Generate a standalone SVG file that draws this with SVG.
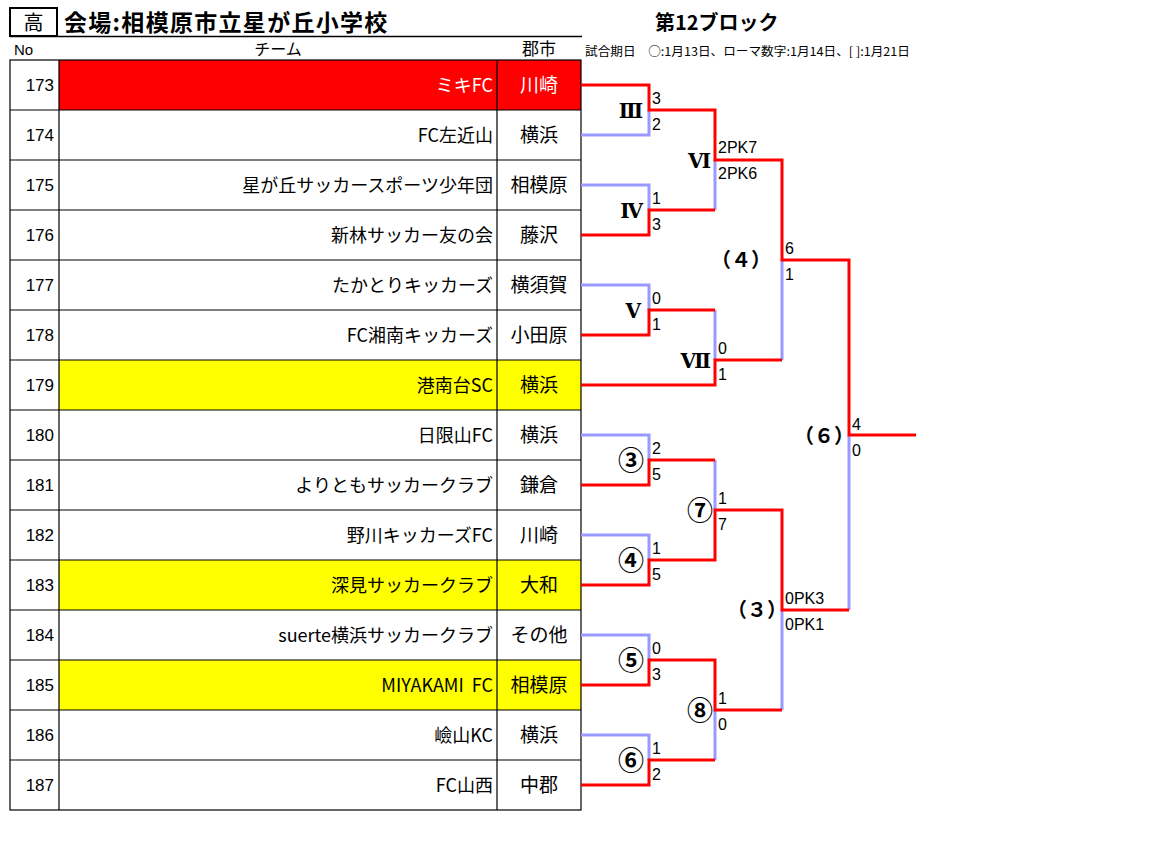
<svg xmlns="http://www.w3.org/2000/svg" width="1152" height="854" viewBox="0 0 1152 854">
<style>
.jp{font-family:"Noto Sans CJK JP","Noto Sans",sans-serif;}
.team{font-family:"Noto Sans CJK JP","Noto Sans",sans-serif;font-size:18px;text-anchor:end;fill:#000;}
.city{font-family:"Noto Sans CJK JP","Noto Sans",sans-serif;font-size:19px;text-anchor:middle;fill:#000;}
.num{font-family:"Liberation Sans","Noto Sans",sans-serif;font-size:17px;text-anchor:end;fill:#000;}
.sc{font-family:"Liberation Sans","Noto Sans",sans-serif;font-size:16px;fill:#000;}
.rom{font-family:"DejaVu Serif","Noto Sans CJK JP",serif;font-size:20px;font-weight:bold;text-anchor:end;}
.cir{font-family:"Noto Sans CJK JP",sans-serif;font-size:26px;font-weight:bold;text-anchor:middle;}
.par{font-family:"Noto Sans CJK JP",sans-serif;font-size:20px;font-weight:bold;text-anchor:middle;}
.grid{stroke:#000;stroke-width:1.2;fill:none;}
.r{stroke:#FF0000;stroke-width:3;fill:none;}
.b{stroke:#9999FF;stroke-width:3;fill:none;}
.w{fill:#fff;}
</style>
<rect width="1152" height="854" fill="#fff"/>
<g id="header">
  <rect x="10" y="8" width="47" height="28" fill="none" stroke="#000" stroke-width="2"/>
  <text x="33.5" y="30" class="jp" font-size="20" text-anchor="middle">高</text>
  <text x="64" y="31" class="jp" font-size="23" font-weight="bold" letter-spacing="1.3">会場:相模原市立星が丘小学校</text>
  <line x1="10" y1="36.5" x2="582" y2="36.5" stroke="#000" stroke-width="1.5"/>
  <text x="14" y="55" font-family="Liberation Sans, sans-serif" font-size="15">No</text>
  <text x="278" y="55" class="jp" font-size="16" text-anchor="middle">チーム</text>
  <text x="539" y="55" class="jp" font-size="17" text-anchor="middle">郡市</text>
  <text x="655" y="30" class="jp" font-size="20" font-weight="bold">第12ブロック</text>
  <text x="585" y="56" class="jp" font-size="12" textLength="325" lengthAdjust="spacingAndGlyphs">試合期日　○:1月13日、ローマ数字:1月14日、[ ]:1月21日</text>
</g>
<g id="table">
  <rect x="59" y="60" width="522" height="50" fill="#FF0000"/>
  <rect x="59" y="360" width="522" height="50" fill="#FFFF00"/>
  <rect x="59" y="560" width="522" height="50" fill="#FFFF00"/>
  <rect x="59" y="660" width="522" height="50" fill="#FFFF00"/>
  <rect x="10" y="60" width="571" height="750" class="grid"/>
  <path class="grid" d="M59,60V810M497,60V810M10,110H581M10,160H581M10,210H581M10,260H581M10,310H581M10,360H581M10,410H581M10,460H581M10,510H581M10,560H581M10,610H581M10,660H581M10,710H581M10,760H581"/>
</g>
<g id="team-173"><text x="54" y="91" class="num">173</text><text x="493" y="92" class="team w">ミキFC</text><text x="539" y="92" class="city w">川崎</text></g>
<g id="team-174"><text x="54" y="141" class="num">174</text><text x="493" y="142" class="team">FC左近山</text><text x="539" y="142" class="city">横浜</text></g>
<g id="team-175"><text x="54" y="191" class="num">175</text><text x="493" y="192" class="team">星が丘サッカースポーツ少年団</text><text x="539" y="192" class="city">相模原</text></g>
<g id="team-176"><text x="54" y="241" class="num">176</text><text x="493" y="242" class="team">新林サッカー友の会</text><text x="539" y="242" class="city">藤沢</text></g>
<g id="team-177"><text x="54" y="291" class="num">177</text><text x="493" y="292" class="team">たかとりキッカーズ</text><text x="539" y="292" class="city">横須賀</text></g>
<g id="team-178"><text x="54" y="341" class="num">178</text><text x="493" y="342" class="team">FC湘南キッカーズ</text><text x="539" y="342" class="city">小田原</text></g>
<g id="team-179"><text x="54" y="391" class="num">179</text><text x="493" y="392" class="team">港南台SC</text><text x="539" y="392" class="city">横浜</text></g>
<g id="team-180"><text x="54" y="441" class="num">180</text><text x="493" y="442" class="team">日限山FC</text><text x="539" y="442" class="city">横浜</text></g>
<g id="team-181"><text x="54" y="491" class="num">181</text><text x="493" y="492" class="team">よりともサッカークラブ</text><text x="539" y="492" class="city">鎌倉</text></g>
<g id="team-182"><text x="54" y="541" class="num">182</text><text x="493" y="542" class="team">野川キッカーズFC</text><text x="539" y="542" class="city">川崎</text></g>
<g id="team-183"><text x="54" y="591" class="num">183</text><text x="493" y="592" class="team">深見サッカークラブ</text><text x="539" y="592" class="city">大和</text></g>
<g id="team-184"><text x="54" y="641" class="num">184</text><text x="493" y="642" class="team">suerte横浜サッカークラブ</text><text x="539" y="642" class="city">その他</text></g>
<g id="team-185"><text x="54" y="691" class="num">185</text><text x="493" y="692" class="team">MIYAKAMI&#160;&#160;FC</text><text x="539" y="692" class="city">相模原</text></g>
<g id="team-186"><text x="54" y="741" class="num">186</text><text x="493" y="742" class="team">嶮山KC</text><text x="539" y="742" class="city">横浜</text></g>
<g id="team-187"><text x="54" y="791" class="num">187</text><text x="493" y="792" class="team">FC山西</text><text x="539" y="792" class="city">中郡</text></g>
<g id="connectors">
  <path class="b" d="M581,135H649V110M581,185H649V210M715,160V210M581,285H649V310M715,310V360M782,260V360M581,435H649V460M581,535H649V560M715,460V510M581,635H649V660M581,735H649V760M715,710V760M782,610V710M849,435V610"/>
  <path class="r" d="M581,85H649V110H715V160H782V260H849V435H916"/>
  <path class="r" d="M581,235H649V210H715"/>
  <path class="r" d="M581,335H649V310H715"/>
  <path class="r" d="M581,385H715V360H782"/>
  <path class="r" d="M581,485H649V460H715"/>
  <path class="r" d="M581,585H649V560H715V510H782V610H849"/>
  <path class="r" d="M581,685H649V660H715V710H782"/>
  <path class="r" d="M581,785H649V760H715"/>
</g>
<g id="match-III"><text x="643" y="118" class="rom">Ⅲ</text><text x="652" y="104" class="sc">3</text><text x="652" y="130" class="sc">2</text></g>
<g id="match-IV"><text x="643" y="218" class="rom">Ⅳ</text><text x="652" y="204" class="sc">1</text><text x="652" y="230" class="sc">3</text></g>
<g id="match-V"><text x="641" y="318" class="rom">Ⅴ</text><text x="652" y="304" class="sc">0</text><text x="652" y="330" class="sc">1</text></g>
<g id="match-VI"><text x="711" y="168" class="rom">Ⅵ</text><text x="718" y="153" class="sc">2PK7</text><text x="718" y="179" class="sc">2PK6</text></g>
<g id="match-VII"><text x="711" y="368" class="rom">Ⅶ</text><text x="718" y="354" class="sc">0</text><text x="718" y="380" class="sc">1</text></g>
<g id="match-4"><text x="741" y="267" class="par">（４）</text><text x="785" y="254" class="sc">6</text><text x="785" y="280" class="sc">1</text></g>
<g id="match-6"><text x="824" y="443" class="par">（６）</text><text x="852" y="430" class="sc">4</text><text x="852" y="456" class="sc">0</text></g>
<g id="match-c3"><text x="631" y="470" class="cir">③</text><text x="652" y="454" class="sc">2</text><text x="652" y="480" class="sc">5</text></g>
<g id="match-c4"><text x="631" y="570" class="cir">④</text><text x="652" y="554" class="sc">1</text><text x="652" y="580" class="sc">5</text></g>
<g id="match-c7"><text x="700" y="520" class="cir">⑦</text><text x="718" y="504" class="sc">1</text><text x="718" y="530" class="sc">7</text></g>
<g id="match-c5"><text x="631" y="670" class="cir">⑤</text><text x="652" y="654" class="sc">0</text><text x="652" y="680" class="sc">3</text></g>
<g id="match-c6"><text x="631" y="770" class="cir">⑥</text><text x="652" y="754" class="sc">1</text><text x="652" y="780" class="sc">2</text></g>
<g id="match-c8"><text x="700" y="720" class="cir">⑧</text><text x="718" y="704" class="sc">1</text><text x="718" y="730" class="sc">0</text></g>
<g id="match-3"><text x="757" y="617" class="par">（３）</text><text x="785" y="604" class="sc">0PK3</text><text x="785" y="630" class="sc">0PK1</text></g>
</svg>
